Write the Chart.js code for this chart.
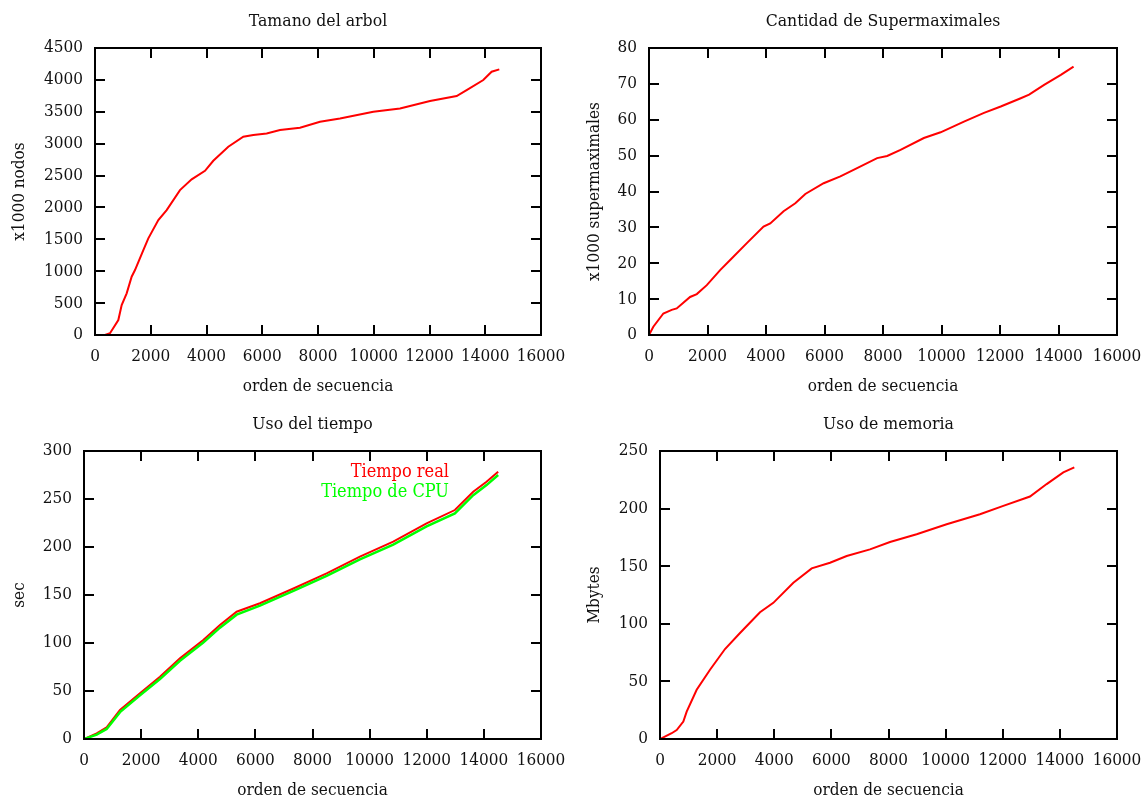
<!DOCTYPE html>
<html>
<head>
<meta charset="utf-8">
<title>Resultados</title>
<script src="https://cdn.jsdelivr.net/npm/chart.js@4"></script>
<style>
  body { margin: 0; background: #fff; }
  #wrap { position: relative; width: 1145px; height: 797px; }
  canvas { position: absolute; }
</style>
</head>
<body>
<div id="wrap">
  <canvas id="arbol" width="572" height="400" style="left:0;top:0"></canvas>
  <canvas id="supermax" width="573" height="400" style="left:572px;top:0"></canvas>
  <canvas id="tiempo" width="572" height="397" style="left:0;top:400px"></canvas>
  <canvas id="memoria" width="573" height="397" style="left:572px;top:400px"></canvas>
</div>
<script>
'use strict'
const FONT = "'DejaVu Serif Condensed', 'DejaVu Serif', serif";
const INK = '#111';

// tamano del arbol (x1000 nodos)
const arbolX = [0, 359, 538, 837, 957, 1136, 1315, 1435, 1734, 1913, 2272, 2571, 3049, 3468, 3946, 4244, 4782, 5320, 5679, 6158, 6637, 7354, 8072, 8789, 9985, 10942, 12018, 12974, 13332, 13930, 14229, 14504];
const arbolY = [0, 0, 27, 235, 470, 653, 914, 1019, 1332, 1515, 1802, 1959, 2272, 2440, 2575, 2732, 2951, 3108, 3135, 3160, 3213, 3250, 3344, 3396, 3500, 3553, 3668, 3746, 3840, 3997, 4128, 4165];

// cantidad de supermaximales (x1000)
const supermaxX = [0, 148, 491, 776, 947, 1405, 1634, 1976, 2432, 2775, 3345, 3916, 4145, 4601, 5002, 5344, 5971, 6543, 7114, 7799, 8142, 8599, 9397, 9969, 10768, 11453, 12025, 12710, 12995, 13508, 14080, 14515];
const supermaxY = [0, 2.3, 6.0, 7.0, 7.4, 10.6, 11.4, 13.9, 18.1, 20.9, 25.6, 30.2, 31.1, 34.5, 36.7, 39.3, 42.3, 44.2, 46.5, 49.3, 49.9, 51.6, 54.9, 56.5, 59.5, 61.9, 63.7, 66.0, 67.0, 69.7, 72.5, 74.8];

// uso del tiempo (sec)
const tiempoX = [0, 443, 793, 1260, 1960, 2660, 3360, 4176, 4760, 5344, 6160, 7352, 8495, 9660, 10827, 11995, 12985, 13627, 14093, 14500];
const tiempoReal = [0, 5.9, 12.2, 30.2, 47.6, 64.9, 84, 103.1, 118.8, 132.6, 141.4, 157, 172.6, 189.9, 205.5, 224.7, 238.5, 257.6, 268, 278.4];
const tiempoCPU = [0, 4.5, 10.5, 28, 45.5, 62.5, 81.5, 100.5, 116, 129.5, 139, 154.5, 170, 187, 202.5, 221.5, 235, 254, 264.5, 275];

// uso de memoria (Mbytes)
const memoriaX = [0, 409, 584, 817, 934, 1284, 1751, 2276, 2801, 3501, 3968, 4669, 5311, 5952, 6536, 7352, 8052, 8986, 10036, 11202, 12019, 12953, 13537, 14120, 14505];
const memoriaY = [0, 5.0, 7.8, 15.1, 23.8, 42.7, 60.1, 78.1, 92.0, 110, 118.2, 135.6, 148.1, 153, 158.8, 164.6, 171, 177.7, 186.4, 195.1, 202.4, 210.5, 221.3, 231.4, 235.8];

const ordenTicks = [0, 2000, 4000, 6000, 8000, 10000, 12000, 14000, 16000];

function pts(xs, ys) {
  let out = [];
  for (let i = 0; i < xs.length; i++) {
    out.push({ x: xs[i], y: ys[i] });
  }
  return out;
}

// gnuplot-like frame: border plus inward ticks on all four sides, and text
const framePlugin = {
  id: 'frame',
  afterDraw(chart, args, opts) {
    const ctx = chart.ctx;
    const a = chart.chartArea;
    const xs = chart.scales.x;
    const ys = chart.scales.y;
    ctx.save();
    ctx.strokeStyle = '#000';
    ctx.lineWidth = 2;
    ctx.beginPath();
    xs.ticks.forEach(t => {
      const px = Math.round(xs.getPixelForValue(t.value));
      ctx.moveTo(px, a.bottom); ctx.lineTo(px, a.bottom - 10);
      ctx.moveTo(px, a.top); ctx.lineTo(px, a.top + 10);
    });
    ys.ticks.forEach(t => {
      const py = Math.round(ys.getPixelForValue(t.value));
      ctx.moveTo(a.left, py); ctx.lineTo(a.left + 10, py);
      ctx.moveTo(a.right, py); ctx.lineTo(a.right - 10, py);
    });
    ctx.stroke();
    ctx.strokeRect(a.left, a.top, a.right - a.left, a.bottom - a.top);

    ctx.fillStyle = INK;
    ctx.textAlign = 'center';
    ctx.textBaseline = 'alphabetic';
    const cx = (a.left + a.right) / 2;
    ctx.font = '17.5px ' + FONT;
    ctx.fillText(opts.title, cx, a.top - 22);
    ctx.font = '17px ' + FONT;
    ctx.fillText('orden de secuencia', cx, a.bottom + 56);

    ctx.save();
    ctx.translate(opts.yTitleX, (a.top + a.bottom) / 2);
    ctx.rotate(-Math.PI / 2);
    ctx.fillText(opts.yTitle, 0, 0);
    ctx.restore();

    if (opts.legend) {
      ctx.font = '18px ' + FONT;
      ctx.textAlign = 'right';
      opts.legend.forEach((item, i) => {
        ctx.fillStyle = item.color;
        ctx.fillText(item.text, opts.legendX, a.top + 26 + i * 20);
      });
    }
    ctx.restore();
  }
};

function makePanel(id, box, datasets, yMax, yStep, frame) {
  const canvas = document.getElementById(id);
  const W = canvas.width;
  const H = canvas.height;
  return new Chart(canvas, {
    type: 'line',
    data: { datasets: datasets },
    options: {
      responsive: false,
      animation: false,
      devicePixelRatio: 1,
      layout: { padding: { top: box.top, right: W - box.right, left: 0, bottom: 0 } },
      plugins: {
        legend: { display: false },
        tooltip: { enabled: false },
        frame: frame
      },
      elements: { point: { radius: 0 }, line: { tension: 0 } },
      scales: {
        x: {
          type: 'linear',
          min: 0,
          max: 16000,
          afterBuildTicks: s => { s.ticks = ordenTicks.map(v => ({ value: v })); },
          afterFit: s => {
            s.height = H - box.bottom;
            s.paddingLeft = 0;
            s.paddingRight = 0;
          },
          grid: { display: false, drawTicks: false },
          border: { display: false },
          ticks: {
            color: INK, padding: 11, maxRotation: 0, autoSkip: false,
            font: { family: FONT, size: 17 },
            callback: v => String(v)
          }
        },
        y: {
          min: 0,
          max: yMax,
          afterFit: s => {
            s.width = box.left;
            s.paddingTop = 0;
            s.paddingBottom = 0;
          },
          grid: { display: false, drawTicks: false },
          border: { display: false },
          ticks: {
            color: INK, padding: 12, stepSize: yStep,
            font: { family: FONT, size: 17 },
            callback: v => String(v)
          }
        }
      }
    },
    plugins: [framePlugin]
  });
}

makePanel('arbol', { left: 95, right: 541, top: 48, bottom: 335 }, [
  { label: 'arbol', data: pts(arbolX, arbolY), borderColor: '#ff0000', borderWidth: 2 }
], 4500, 500, { title: 'Tamano del arbol', yTitle: 'x1000 nodos', yTitleX: 24 });

makePanel('supermax', { left: 77, right: 545, top: 48, bottom: 335 }, [
  { label: 'supermaximales', data: pts(supermaxX, supermaxY), borderColor: '#ff0000', borderWidth: 2 }
], 80, 10, { title: 'Cantidad de Supermaximales', yTitle: 'x1000 supermaximales', yTitleX: 27 });

makePanel('tiempo', { left: 84, right: 541, top: 51, bottom: 339 }, [
  { label: 'Tiempo de CPU', data: pts(tiempoX, tiempoCPU), borderColor: '#00ff00', borderWidth: 2.5 },
  { label: 'Tiempo real', data: pts(tiempoX, tiempoReal), borderColor: '#ff0000', borderWidth: 2 }
], 300, 50, {
  title: 'Uso del tiempo', yTitle: 'sec', yTitleX: 24, legendX: 449,
  legend: [{ text: 'Tiempo real', color: '#ff0000' }, { text: 'Tiempo de CPU', color: '#00ff00' }]
});

makePanel('memoria', { left: 88, right: 545, top: 51, bottom: 339 }, [
  { label: 'memoria', data: pts(memoriaX, memoriaY), borderColor: '#ff0000', borderWidth: 2 }
], 250, 50, { title: 'Uso de memoria', yTitle: 'Mbytes', yTitleX: 27 });
</script>
</body>
</html>
